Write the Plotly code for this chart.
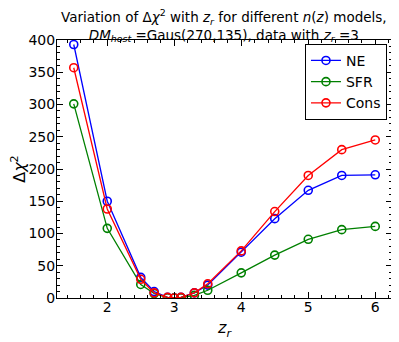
import plotly.graph_objects as go

z_r = [1.5, 2.0, 2.5, 2.7, 2.9, 3.0, 3.1, 3.3, 3.5, 4.0, 4.5, 5.0, 5.5, 6.0]
ne = [393, 150, 32, 10, 1, 0, 1, 8, 20, 71, 123, 167, 190, 191]
sfr = [301, 108, 21, 7, 0.5, 0, 0.5, 4, 12, 39, 66.5, 91, 106, 111]
cons = [357, 138, 29, 8, 1, 0, 1, 8, 22, 73, 134, 190, 230, 245]

series = [('NE', ne, '#0000ff'), ('SFR', sfr, '#008000'), ('Cons', cons, '#ff0000')]

fig = go.Figure()
for name, vals, col in series:
    fig.add_trace(go.Scatter(x=z_r, y=vals, name=name, mode='lines+markers',
                             line=dict(color=col, width=1.3),
                             marker=dict(symbol='circle-open', size=8, color=col, line=dict(width=1.6, color=col))))

axis_style = dict(showline=True, linecolor='black', linewidth=1, mirror='allticks', ticks='inside',
                  ticklen=6, tickcolor='black', showgrid=False, zeroline=False, automargin=False,
                  tickfont=dict(size=14, color='black'))

# page body has an 8px margin, so the figure is shrunk and shifted to fit the window
fig.update_layout(
    width=391, height=334,
    margin=dict(l=49, r=7, t=32, b=44),
    paper_bgcolor='white', plot_bgcolor='white',
    font=dict(family='DejaVu Sans', color='black'),
    title=dict(text='Variation of Δ<i>χ</i><sup>2</sup> with <i>z<sub>r</sub></i> for different <i>n</i>(<i>z</i>) models,<br>'
                    '<i>DM<sub>host</sub></i> =Gaus(270,135), data with <i>z<sub>r</sub></i> =3',
               xref='container', x=0.552, xanchor='center', yref='container', y=0.958, yanchor='top',
               font=dict(size=13.5)),
    xaxis=dict(range=[1.25, 6.25], tickvals=[2, 3, 4, 5, 6], ticklabelstandoff=-4,
               minor=dict(dtick=0.2, tick0=0, ticks='inside', ticklen=3, tickcolor='black'),
               title=dict(text='<i>z<sub>r</sub></i>', font=dict(size=16), standoff=8), **axis_style),
    yaxis=dict(range=[0, 400], dtick=50, ticklabelstandoff=-2,
               minor=dict(dtick=10, ticks='inside', ticklen=3, tickcolor='black'), **axis_style),
    legend=dict(x=0.985, y=0.985, xanchor='right', yanchor='top', bordercolor='black', borderwidth=1,
                bgcolor='white', font=dict(size=14), tracegroupgap=0),
)
fig.add_annotation(text='Δ<i>χ</i><sup>2</sup>', textangle=-90, xref='paper', yref='paper',
                   x=-0.117, y=0.5, xanchor='center', yanchor='middle', showarrow=False,
                   font=dict(size=16, color='black'))

fig.write_html("out.html")
